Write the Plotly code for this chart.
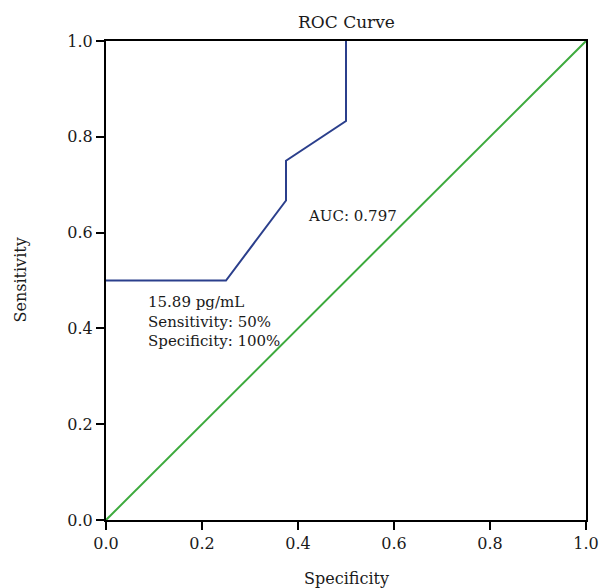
import plotly.graph_objects as go

spec = [0.0, 0.25, 0.375, 0.375, 0.5, 0.5]
sens = [0.5, 0.5, 0.667, 0.75, 0.833, 1.0]
diag_x = [0.0, 1.0]
diag_y = [0.0, 1.0]
ticks = [0.0, 0.2, 0.4, 0.6, 0.8, 1.0]
tick_labels = ["0.0", "0.2", "0.4", "0.6", "0.8", "1.0"]

FONT = "DejaVu Serif"
TXT = "#1a1a1a"

fig = go.Figure()
fig.add_trace(go.Scatter(x=spec, y=sens, mode="lines",
                         line=dict(color="#2B3F8C", width=2), showlegend=False))
fig.add_trace(go.Scatter(x=diag_x, y=diag_y, mode="lines",
                         line=dict(color="#3DAA3D", width=2), showlegend=False))

fig.add_annotation(x=0.417, y=0.635, xref="x", yref="y", text="AUC: 0.797",
                   showarrow=False, xanchor="left", yanchor="middle",
                   font=dict(family=FONT, size=15, color=TXT))
fig.add_annotation(x=0.083, y=0.415, xref="x", yref="y",
                   text="15.89 pg/mL<br>Sensitivity: 50%<br>Specificity: 100%",
                   showarrow=False, xanchor="left", yanchor="middle", align="left",
                   font=dict(family=FONT, size=15, color=TXT))

# axis titles and chart title as paper annotations (pixel offsets from plot box)
fig.add_annotation(x=0.5, y=0, xref="paper", yref="paper", text="Specificity",
                   showarrow=False, xanchor="center", yanchor="middle", yshift=-58,
                   font=dict(family=FONT, size=16, color=TXT))
fig.add_annotation(x=0, y=0.5, xref="paper", yref="paper", text="Sensitivity",
                   showarrow=False, xanchor="center", yanchor="middle", xshift=-86,
                   textangle=-90, font=dict(family=FONT, size=16, color=TXT))
fig.add_annotation(x=0.5, y=1, xref="paper", yref="paper", text="ROC Curve",
                   showarrow=False, xanchor="center", yanchor="middle", yshift=19,
                   font=dict(family=FONT, size=17, color=TXT))

axis_common = dict(range=[0, 1], tickvals=ticks, ticktext=tick_labels,
                   showline=True, linecolor="black", linewidth=2, mirror=True,
                   ticks="outside", ticklen=8, tickwidth=2, tickcolor="black",
                   showgrid=False, zeroline=False, automargin=False,
                   tickfont=dict(family=FONT, size=16, color=TXT))

fig.update_layout(
    width=600, height=588,
    margin=dict(l=106, r=14, t=41, b=68),
    plot_bgcolor="white", paper_bgcolor="white",
    xaxis=dict(**axis_common),
    yaxis=dict(**axis_common),
)

fig.write_html(
    "out.html",
    config={"displayModeBar": False},
    post_script="document.body.style.margin='0';document.body.style.overflow='hidden';",
)
